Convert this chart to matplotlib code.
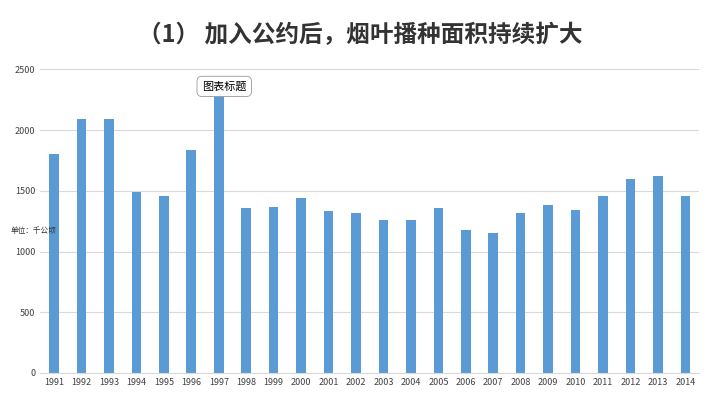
import matplotlib.pyplot as plt

years = [str(y) for y in range(1991, 2015)]
area = [1800, 2090, 2090, 1490, 1460, 1840, 2320, 1360, 1370, 1440, 1330, 1320,
        1260, 1260, 1355, 1180, 1155, 1320, 1380, 1340, 1455, 1595, 1620, 1460]

plt.rcParams['font.family'] = ['Noto Sans CJK SC', 'DejaVu Sans']
fig = plt.figure(figsize=(7.2, 4.13), dpi=100)
ax = fig.add_axes([0.056, 0.097, 0.915, 0.735])

ax.bar(years, area, width=0.35, color='#5B9BD5', zorder=2)
ax.set_ylim(0, 2500)
ax.set_yticks(range(0, 2501, 500))
ax.set_xlim(-0.5, len(years) - 0.5)
ax.grid(axis='y', color='#D9D9D9', linewidth=0.8, zorder=0)
for s in ['top', 'right', 'left']:
    ax.spines[s].set_visible(False)
ax.spines['bottom'].set_color('#D9D9D9')
ax.tick_params(length=0, labelsize=6.5, colors='#404040')

fig.text(0.5, 0.915, '（1） 加入公约后，烟叶播种面积持续扩大', ha='center', va='center',
         fontsize=17, fontweight='bold', color='#333333')
fig.text(0.015, 0.435, '单位：千公顷', fontsize=5.5, color='#333333')
ax.text(6.2, 2360, '图表标题', fontsize=8, ha='center', va='center',
        bbox=dict(boxstyle='round,pad=0.45', fc='white', ec='#999999', lw=0.6), zorder=5)

fig.savefig('out.png', dpi=100)
